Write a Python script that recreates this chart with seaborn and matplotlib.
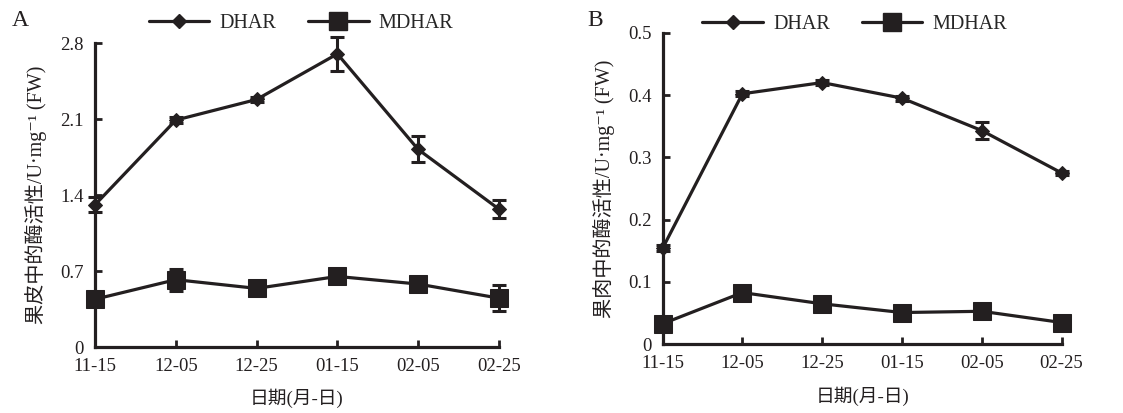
import numpy as np
import pandas as pd
import matplotlib
matplotlib.use("Agg")
import matplotlib.pyplot as plt
import seaborn as sns
from matplotlib.lines import Line2D

dates = ["11-15", "12-05", "12-25", "01-15", "02-05", "02-25"]
series = ["DHAR", "MDHAR"]

# Panel A: peel
a_dhar = [1.31, 2.09, 2.28, 2.70, 1.82, 1.27]
a_dhar_err = [0.07, 0.03, 0.025, 0.16, 0.12, 0.08]
a_mdhar = [0.44, 0.62, 0.54, 0.65, 0.58, 0.45]
a_mdhar_err = [0.03, 0.10, 0.045, 0.02, 0.02, 0.12]

# Panel B: flesh
b_dhar = [0.154, 0.402, 0.420, 0.395, 0.343, 0.275]
b_dhar_err = [0.005, 0.004, 0.004, 0.004, 0.014, 0.003]
b_mdhar = [0.033, 0.083, 0.065, 0.051, 0.053, 0.035]
b_mdhar_err = [0.003, 0.003, 0.002, 0.002, 0.007, 0.002]

a_ticks = [0, 0.7, 1.4, 2.1, 2.8]
a_ticklabels = ["0", "0.7", "1.4", "2.1", "2.8"]
b_ticks = [0, 0.1, 0.2, 0.3, 0.4, 0.5]
b_ticklabels = ["0", "0.1", "0.2", "0.3", "0.4", "0.5"]

ylabel_a = "果皮中的酶活性/U·mg⁻¹ (FW)"
ylabel_b = "果肉中的酶活性/U·mg⁻¹ (FW)"
xlabel = "日期(月-日)"

sns.set_theme(style="ticks")
FAM = ["Liberation Serif", "Noto Sans CJK SC", "DejaVu Sans"]
plt.rcParams["font.family"] = FAM
plt.rcParams["axes.unicode_minus"] = False

C = "#231f20"
LW = 2.3
FS = 13.5


def draw(ax, dh, dh_e, md, md_e, ticks, ticklabels, ylim, ylabel, leg_xy):
    x = np.arange(len(dates))
    df = pd.DataFrame({
        "x": np.concatenate([x, x]),
        "value": dh + md,
        "series": [series[0]] * len(dates) + [series[1]] * len(dates),
    })
    sns.lineplot(data=df, x="x", y="value", hue="series", style="series",
                 palette=[C, C], markers={"DHAR": "D", "MDHAR": "s"},
                 dashes=False, linewidth=LW, ax=ax, legend=False)
    ax.lines[0].set_markersize(7.5)
    ax.lines[1].set_markersize(13)
    for ln in ax.lines:
        ln.set_clip_on(False)
        ln.set_markeredgecolor(C)
        ln.set_markerfacecolor(C)
    ax.errorbar(x, dh, yerr=dh_e, fmt="none", ecolor=C, elinewidth=2.2,
                capsize=5, capthick=2.2, clip_on=False)
    ax.errorbar(x, md, yerr=md_e, fmt="none", ecolor=C, elinewidth=2.2,
                capsize=5, capthick=2.2, clip_on=False)
    ax.set_xlim(0, len(dates) - 1)
    ax.set_ylim(*ylim)
    ax.set_xticks(x)
    ax.set_xticklabels(dates)
    ax.set_yticks(ticks)
    ax.set_yticklabels(ticklabels)
    ax.tick_params(direction="in", length=5, width=2, colors=C, labelsize=FS,
                   pad=8)
    for s in ["top", "right"]:
        ax.spines[s].set_visible(False)
    for s in ["left", "bottom"]:
        ax.spines[s].set_linewidth(2.3)
        ax.spines[s].set_color(C)
    ax.set_xlabel(xlabel, fontsize=FS, color=C, labelpad=10)
    ax.set_ylabel(ylabel, fontsize=14.5, color=C)
    ax.yaxis.set_label_coords(-0.118, 0.5)
    ax.set_facecolor("white")
    handles = [
        Line2D([], [], color=C, lw=LW, marker="D", markersize=7.5),
        Line2D([], [], color=C, lw=LW, marker="s", markersize=13),
    ]
    ax.legend(handles, series, loc="center", bbox_to_anchor=leg_xy,
              ncol=2, frameon=False, fontsize=14.5, handlelength=3.0,
              columnspacing=1.6, handletextpad=0.5, borderaxespad=0.0,
              borderpad=0.0)
    return ax


fig = plt.figure(figsize=(11.23, 4.13), dpi=100)
axA = fig.add_axes([0.0846, 0.1598, 0.3597, 0.736])
axB = fig.add_axes([0.590, 0.1663, 0.3553, 0.7545])

draw(axA, a_dhar, a_dhar_err, a_mdhar, a_mdhar_err, a_ticks, a_ticklabels,
     (0, 2.8), ylabel_a, (0.51, 1.063))
draw(axB, b_dhar, b_dhar_err, b_mdhar, b_mdhar_err, b_ticks, b_ticklabels,
     (0, 0.5), ylabel_b, (0.482, 1.026))

fig.text(12 / 1123, 1 - 20 / 413, "A", fontsize=17, color=C, va="center",
         ha="left")
fig.text(587 / 1123, 1 - 20 / 413, "B", fontsize=17, color=C, va="center",
         ha="left")

fig.savefig("out.png", dpi=100, facecolor="white")
